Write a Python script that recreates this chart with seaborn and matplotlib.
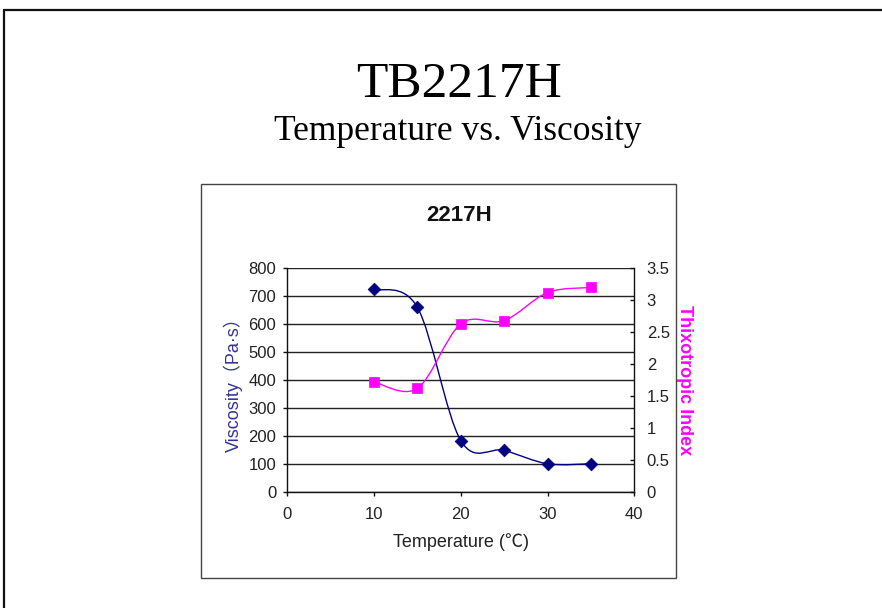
import numpy as np
import matplotlib
matplotlib.use('Agg')
import matplotlib.pyplot as plt
import seaborn as sns
from matplotlib.path import Path
from matplotlib.patches import PathPatch, Rectangle
from matplotlib.lines import Line2D

# Data
temperature = [10, 15, 20, 25, 30, 35]
viscosity = [725, 660, 183, 148, 100, 100]
thixotropic = [1.72, 1.62, 2.63, 2.68, 3.12, 3.20]

x_ticks = [0, 10, 20, 30, 40]
visc_ticks = [0, 100, 200, 300, 400, 500, 600, 700, 800]
thixo_ticks = [0, 0.5, 1, 1.5, 2, 2.5, 3, 3.5]
thixo_tick_labels = ['0', '0.5', '1', '1.5', '2', '2.5', '3', '3.5']

W, H = 882, 608
SANS = ['Liberation Sans', 'Noto Sans CJK SC', 'DejaVu Sans']
SERIF = ['Liberation Serif', 'DejaVu Serif']
NAVY = '#000080'
MAGENTA = '#FF00FF'
TICK_COLOR = '#222222'


def fx(px):
    return px / W


def fy(py):
    return 1 - py / H


def smooth_path(xs, ys):
    """Excel-like smoothed line: cubic Bezier through the points."""
    pts = np.column_stack([xs, ys]).astype(float)
    n = len(pts)
    verts = [pts[0]]
    codes = [Path.MOVETO]
    for i in range(n - 1):
        p_prev = pts[max(i - 1, 0)]
        p0 = pts[i]
        p1 = pts[i + 1]
        p_next = pts[min(i + 2, n - 1)]
        verts += [p0 + (p1 - p_prev) / 6, p1 - (p_next - p0) / 6, p1]
        codes += [Path.CURVE4] * 3
    return Path(verts, codes)


def main():
    sns.set_theme(style='white')
    plt.rcParams['font.family'] = SANS

    fig = plt.figure(figsize=(W / 100, H / 100), dpi=100)

    # slide frame (top and left edges only)
    fig.add_artist(Line2D([fx(4), 1], [fy(10), fy(10)], color='#111111', lw=1.6))
    fig.add_artist(Line2D([fx(4), fx(4)], [fy(10), 0], color='#111111', lw=1.6))

    # slide titles
    fig.text(fx(459), fy(97), 'TB2217H', family=SERIF, fontsize=37,
             ha='center', va='baseline', color='black')
    fig.text(fx(458), fy(140), 'Temperature vs. Viscosity', family=SERIF,
             fontsize=25.5, ha='center', va='baseline', color='black')

    # chart box
    fig.add_artist(Rectangle((fx(201), fy(578)), fx(676) - fx(201), fy(184) - fy(578),
                             transform=fig.transFigure, fill=False,
                             edgecolor='#444444', lw=1.0))
    fig.text(fx(459), fy(221), '2217H', fontsize=16, fontweight='bold',
             ha='center', va='baseline', color='#111111')

    left, right, top, bottom = 287.3, 634.3, 268.3, 491.7
    ax = fig.add_axes([fx(left), fy(bottom), fx(right) - fx(left), fy(top) - fy(bottom)])
    ax2 = ax.twinx()

    # viscosity (left axis)
    ax.add_patch(PathPatch(smooth_path(temperature, viscosity), fill=False,
                           edgecolor=NAVY, lw=1.0, zorder=3))
    sns.scatterplot(x=temperature, y=viscosity, ax=ax, marker='D', s=42,
                    color=NAVY, edgecolor=NAVY, linewidth=0.5, zorder=4)

    # thixotropic index (right axis)
    ax2.add_patch(PathPatch(smooth_path(temperature, thixotropic), fill=False,
                            edgecolor=MAGENTA, lw=1.0, zorder=3))
    sns.scatterplot(x=temperature, y=thixotropic, ax=ax2, marker='s', s=42,
                    color=MAGENTA, edgecolor=MAGENTA, linewidth=0.5, zorder=4)

    ax.set_xlim(0, 40)
    ax.set_ylim(0, 800)
    ax2.set_ylim(0, 3.5)
    ax.set_xticks(x_ticks)
    ax.set_yticks(visc_ticks)
    ax2.set_yticks(thixo_ticks)
    ax2.set_yticklabels(thixo_tick_labels)

    ax.yaxis.grid(True, color='#222222', lw=1.0)
    ax.xaxis.grid(False)
    ax.set_axisbelow(True)

    for name in ['top', 'right']:
        ax.spines[name].set_visible(False)
    for name in ['top', 'left', 'bottom']:
        ax2.spines[name].set_visible(False)
    for spine in [ax.spines['left'], ax.spines['bottom'], ax2.spines['right']]:
        spine.set_color('#111111')
        spine.set_linewidth(1.0)

    ax.tick_params(axis='both', direction='out', length=3, width=1,
                   color='#111111', labelsize=12, labelcolor=TICK_COLOR)
    ax.tick_params(axis='y', pad=5, left=True)
    ax.tick_params(axis='x', pad=8, bottom=True)
    ax2.tick_params(axis='y', direction='in', length=3, width=1, right=True,
                    color='#111111', labelsize=12, labelcolor=TICK_COLOR, pad=9)

    ax.set_xlabel('Temperature (℃)', fontsize=13, color=TICK_COLOR)
    ax.set_ylabel('Viscosity（Pa·s）', fontsize=13, color='#333399')
    ax2.set_ylabel('Thixotropic Index', fontsize=13, color=MAGENTA,
                   rotation=-90, fontweight='bold', va='center')
    ax.xaxis.set_label_coords(0.5, -0.185)
    ax.yaxis.set_label_coords(-0.128, 0.5)
    ax2.yaxis.set_label_coords(1.146, 0.5)

    fig.savefig('out.png', dpi=100)


if __name__ == '__main__':
    main()
